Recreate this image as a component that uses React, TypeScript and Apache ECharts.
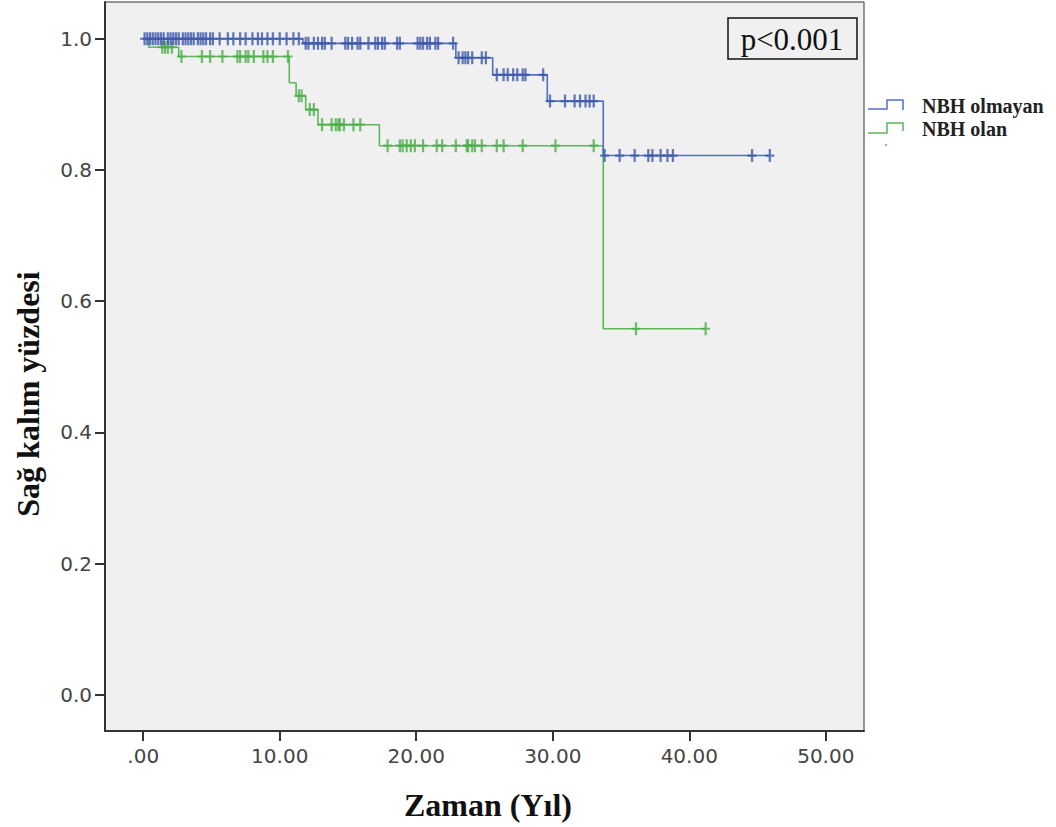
import React, { useEffect, useRef } from "react";
import * as echarts from "echarts";

// Kaplan-Meier step data (time in years, survival proportion)
const blueName = "NBH olmayan";
const blueStepTimes = [0, 11.7, 22.9, 25.6, 29.6, 33.7];
const blueStepValues = [1.0, 0.993, 0.971, 0.945, 0.905, 0.822];
const blueEndTime = 45.9;
const blueCensorTimes = [
  0.1, 0.3, 0.5, 0.7, 0.9, 1.1, 1.3, 1.5, 1.8, 2.0, 2.2, 2.4, 2.6, 2.9, 3.1, 3.3, 3.5, 3.7, 4.0, 4.2, 4.4, 4.6, 4.9, 5.1,
  5.6, 6.2, 6.6, 7.1, 7.5, 8.0, 8.4, 8.7, 9.1, 9.5, 10.0, 10.5, 11.0, 11.4,
  11.9, 12.1, 12.5, 12.8, 13.1, 13.3, 13.8, 14.8, 15.0, 15.3, 15.7, 15.9, 16.5, 17.0, 17.2, 17.5, 17.7, 18.6, 18.8,
  20.1, 20.3, 20.5, 20.8, 21.0, 21.4, 21.6, 22.7,
  23.1, 23.4, 23.6, 23.8, 24.1, 24.8, 25.1,
  25.9, 26.4, 26.7, 27.1, 27.4, 27.8, 28.0, 29.3,
  29.8, 30.9, 31.6, 32.0, 32.4, 32.7, 33.0,
  33.8, 34.9, 36.0, 37.0, 37.3, 37.9, 38.4, 38.8, 44.6, 45.9,
];

const greenName = "NBH olan";
const greenStepTimes = [0, 0.4, 2.6, 10.7, 11.2, 11.9, 12.8, 17.3, 33.7];
const greenStepValues = [1.0, 0.987, 0.973, 0.933, 0.913, 0.892, 0.869, 0.837, 0.558];
const greenEndTime = 41.2;
const greenCensorTimes = [
  1.4, 1.6, 1.8, 2.1,
  2.8, 4.3, 4.9, 5.8, 6.9, 7.1, 7.5, 7.7, 8.1, 8.8, 9.1, 9.5, 10.6,
  11.4, 11.6, 12.2, 12.5,
  13.1, 13.8, 14.1, 14.3, 14.4, 14.7, 15.4, 15.9,
  17.9, 18.8, 19.0, 19.3, 19.6, 19.9, 20.5, 21.5, 21.9, 22.9, 23.7, 23.8, 24.1, 24.3, 24.8, 25.9, 26.4, 27.8, 30.2, 33.0,
  36.1, 41.2,
];

const xTicks = [0, 10, 20, 30, 40, 50];
const yTicks = [0, 0.2, 0.4, 0.6, 0.8, 1.0];
const xAxisTitle = "Zaman (Yıl)";
const yAxisTitle = "Sağ kalım yüzdesi";
const pValueText = "p<0.001";

const BLUE_LINE = "#5070c4";
const BLUE_MARK = "#3c58ad";
const GREEN_LINE = "#5cb85a";
const GREEN_MARK = "#4cae4a";

function survivalAt(times: number[], values: number[], t: number) {
  let v = values[0];
  for (let i = 0; i < times.length; i++) if (times[i] <= t) v = values[i];
  return v;
}

function stepData(times: number[], values: number[], end: number) {
  const d = times.map((t, i) => [t, values[i]]);
  d.push([end, values[values.length - 1]]);
  return d;
}

const plusSymbol = "path://M3,0h2v5h3v2h-3v5h-2v-5h-3v-2h3z";

export default function App() {
  const ref = useRef<HTMLDivElement>(null);
  useEffect(() => {
    if (!ref.current) return;
    const chart = echarts.init(ref.current, undefined, { renderer: "svg" });
    const serif = "'Liberation Serif', 'Times New Roman', serif";
    chart.setOption({
      animation: false,
      backgroundColor: "#ffffff",
      grid: {
        left: 105,
        right: 192,
        top: 2,
        bottom: 96,
        show: true,
        backgroundColor: "#f0f0f0",
        borderColor: "#333",
        borderWidth: 1,
      },
      xAxis: {
        type: "value",
        min: -2.8,
        max: 52.8,
        axisLine: { show: true, onZero: false, lineStyle: { color: "#333", width: 2 } },
        axisTick: { show: true, customValues: xTicks, length: 10, lineStyle: { color: "#333", width: 2 } },
        axisLabel: {
          customValues: xTicks,
          margin: 15,
          color: "#444",
          fontFamily: "'DejaVu Sans', sans-serif",
          fontSize: 20,
          formatter: (v: number) => (v === 0 ? ".00" : v.toFixed(2)),
        },
        splitLine: { show: false },
      },
      yAxis: {
        type: "value",
        min: -0.055,
        max: 1.056,
        axisLine: { show: true, onZero: false, lineStyle: { color: "#333", width: 2 } },
        axisTick: { show: true, customValues: yTicks, length: 10, lineStyle: { color: "#333", width: 2 } },
        axisLabel: {
          customValues: yTicks,
          margin: 13,
          color: "#444",
          fontFamily: "'DejaVu Sans', sans-serif",
          fontSize: 20,
          formatter: (v: number) => v.toFixed(1),
        },
        splitLine: { show: false },
      },
      series: [
        {
          name: greenName,
          type: "line",
          step: "end",
          showSymbol: false,
          lineStyle: { color: GREEN_LINE, width: 1.6 },
          data: stepData(greenStepTimes, greenStepValues, greenEndTime),
          z: 2,
        },
        {
          name: greenName + " censored",
          type: "scatter",
          symbol: plusSymbol,
          symbolSize: [9, 13],
          itemStyle: { color: GREEN_MARK },
          data: greenCensorTimes.map((t) => [t, survivalAt(greenStepTimes, greenStepValues, t)]),
          z: 3,
        },
        {
          name: blueName,
          type: "line",
          step: "end",
          showSymbol: false,
          lineStyle: { color: BLUE_LINE, width: 1.6 },
          data: stepData(blueStepTimes, blueStepValues, blueEndTime),
          z: 4,
        },
        {
          name: blueName + " censored",
          type: "scatter",
          symbol: plusSymbol,
          symbolSize: [9, 13],
          itemStyle: { color: BLUE_MARK },
          data: blueCensorTimes.map((t) => [t, survivalAt(blueStepTimes, blueStepValues, t)]),
          z: 5,
        },
      ],
      graphic: [
        {
          type: "rect",
          shape: { x: 728, y: 18, width: 129, height: 41 },
          style: { fill: "transparent", stroke: "#111", lineWidth: 1.5 },
          z: 10,
        },
        {
          type: "text",
          x: 792,
          y: 39,
          style: {
            text: pValueText,
            fontFamily: serif,
            fontSize: 31,
            fill: "#111",
            align: "center",
            verticalAlign: "middle",
          },
          z: 10,
        },
        {
          type: "polyline",
          shape: { points: [[868, 109], [887, 109], [887, 100], [903, 100], [903, 110]] },
          style: { stroke: BLUE_LINE, lineWidth: 1.5, fill: "none" },
        },
        {
          type: "polyline",
          shape: { points: [[868, 133], [887, 133], [887, 123], [903, 123], [903, 131]] },
          style: { stroke: GREEN_LINE, lineWidth: 1.5, fill: "none" },
        },
        {
          type: "circle",
          shape: { cx: 886, cy: 145, r: 0.8 },
          style: { fill: BLUE_LINE },
        },
        {
          type: "text",
          x: 922,
          y: 106,
          style: {
            text: blueName,
            fontFamily: serif,
            fontWeight: "bold",
            fontSize: 20,
            fill: "#222",
            verticalAlign: "middle",
          },
        },
        {
          type: "text",
          x: 922,
          y: 129,
          style: {
            text: greenName,
            fontFamily: serif,
            fontWeight: "bold",
            fontSize: 20,
            fill: "#222",
            verticalAlign: "middle",
          },
        },
        {
          type: "text",
          x: 488,
          y: 805,
          style: {
            text: xAxisTitle,
            fontFamily: serif,
            fontWeight: "bold",
            fontSize: 32,
            fill: "#111",
            align: "center",
            verticalAlign: "middle",
          },
        },
        {
          type: "text",
          x: 28,
          y: 394,
          rotation: Math.PI / 2,
          style: {
            text: yAxisTitle,
            fontFamily: serif,
            fontWeight: "bold",
            fontSize: 32,
            fill: "#111",
            align: "center",
            verticalAlign: "middle",
          },
        },
      ],
    });
    return () => chart.dispose();
  }, []);
  return (
    <div
      ref={ref}
      style={{ position: "fixed", left: 0, top: 0, width: 1056, height: 827 }}
    />
  );
}
